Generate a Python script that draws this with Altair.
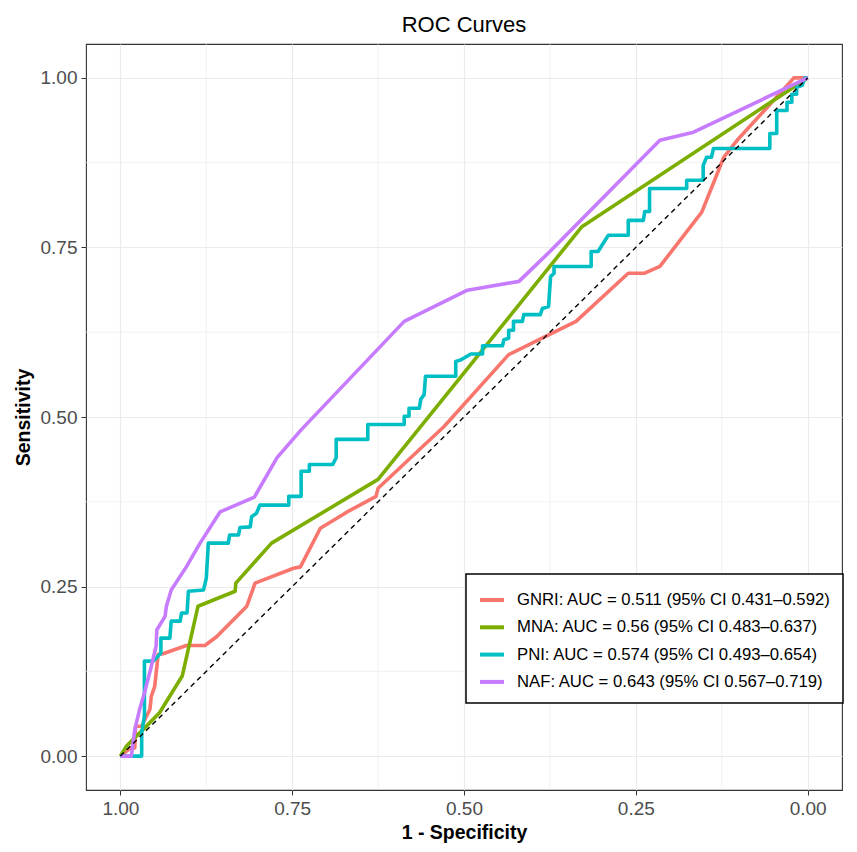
import altair as alt
import pandas as pd

# ROC curve coordinates (specificity, sensitivity) for each nutritional index
gnri_spec = [1.0, 0.985, 0.979, 0.978, 0.969, 0.957, 0.955, 0.950, 0.945, 0.938, 0.904, 0.877,
             0.860, 0.816, 0.804, 0.748, 0.738, 0.709, 0.670, 0.628, 0.625, 0.529, 0.435, 0.337,
             0.261, 0.237, 0.215, 0.154, 0.122, 0.101, 0.054, 0.020, 0.0]
gnri_sens = [0.0, 0.012, 0.012, 0.044, 0.044, 0.069, 0.088, 0.103, 0.150, 0.151, 0.163, 0.163,
             0.176, 0.221, 0.255, 0.277, 0.279, 0.336, 0.360, 0.383, 0.395, 0.486, 0.592, 0.641,
             0.712, 0.712, 0.722, 0.802, 0.883, 0.910, 0.962, 1.0, 1.0]

mna_spec = [1.0, 0.991, 0.967, 0.943, 0.910, 0.887, 0.833, 0.832, 0.780, 0.625, 0.329, 0.0]
mna_sens = [0.0, 0.015, 0.039, 0.064, 0.118, 0.221, 0.243, 0.255, 0.314, 0.408, 0.780, 1.0]

pni_spec = [1.0, 0.969, 0.969, 0.965, 0.965, 0.952, 0.941, 0.941, 0.928, 0.926, 0.913, 0.911,
            0.903, 0.901, 0.879, 0.875, 0.872, 0.843, 0.841, 0.828, 0.826, 0.811, 0.809, 0.802,
            0.797, 0.755, 0.755, 0.737, 0.737, 0.725, 0.725, 0.691, 0.686, 0.686, 0.640, 0.640,
            0.587, 0.587, 0.580, 0.580, 0.565, 0.563, 0.558, 0.556, 0.512, 0.512, 0.505, 0.490,
            0.473, 0.473, 0.444, 0.442, 0.435, 0.435, 0.428, 0.428, 0.415, 0.413, 0.389, 0.386,
            0.377, 0.374, 0.369, 0.369, 0.315, 0.315, 0.305, 0.290, 0.261, 0.261, 0.239, 0.237,
            0.230, 0.230, 0.176, 0.176, 0.152, 0.152, 0.147, 0.140, 0.137, 0.055, 0.055, 0.045,
            0.045, 0.030, 0.030, 0.023, 0.023, 0.016, 0.016, 0.008, 0.004, 0.0]
pni_sens = [0.0, 0.0, 0.034, 0.059, 0.140, 0.140, 0.152, 0.174, 0.174, 0.199, 0.199, 0.211,
            0.211, 0.243, 0.245, 0.262, 0.314, 0.314, 0.326, 0.326, 0.337, 0.338, 0.353, 0.358,
            0.370, 0.370, 0.383, 0.383, 0.420, 0.420, 0.430, 0.430, 0.440, 0.467, 0.467, 0.489,
            0.489, 0.501, 0.501, 0.513, 0.513, 0.526, 0.533, 0.560, 0.560, 0.582, 0.584, 0.593,
            0.593, 0.605, 0.605, 0.614, 0.616, 0.628, 0.628, 0.641, 0.641, 0.651, 0.651, 0.660,
            0.663, 0.707, 0.712, 0.722, 0.722, 0.744, 0.744, 0.768, 0.768, 0.790, 0.790, 0.803,
            0.803, 0.837, 0.837, 0.849, 0.849, 0.871, 0.883, 0.883, 0.896, 0.896, 0.918, 0.918,
            0.952, 0.952, 0.964, 0.964, 0.976, 0.976, 0.986, 0.989, 1.0, 1.0]

naf_spec = [1.0, 0.984, 0.979, 0.972, 0.965, 0.955, 0.948, 0.947, 0.935, 0.933, 0.926, 0.904,
            0.884, 0.855, 0.816, 0.805, 0.772, 0.737, 0.587, 0.495, 0.420, 0.375, 0.215, 0.166, 0.0]
naf_sens = [0.0, 0.0, 0.039, 0.069, 0.093, 0.132, 0.162, 0.186, 0.206, 0.221, 0.245, 0.279,
            0.314, 0.360, 0.377, 0.382, 0.440, 0.481, 0.641, 0.687, 0.700, 0.744, 0.908, 0.920, 1.0]

labels = [
    "GNRI: AUC = 0.511 (95% CI 0.431\u20130.592)",
    "MNA: AUC = 0.56 (95% CI 0.483\u20130.637)",
    "PNI: AUC = 0.574 (95% CI 0.493\u20130.654)",
    "NAF: AUC = 0.643 (95% CI 0.567\u20130.719)",
]
colors = ["#F8766D", "#7CAE00", "#00BFC4", "#C77CFF"]

major_ticks = [0.0, 0.25, 0.5, 0.75, 1.0]
minor_ticks = [0.125, 0.375, 0.625, 0.875]

series = [(gnri_spec, gnri_sens), (mna_spec, mna_sens), (pni_spec, pni_sens), (naf_spec, naf_sens)]
rows = []
for lab, (sp, se) in zip(labels, series):
    for i, (a, b) in enumerate(zip(sp, se)):
        rows.append({"curve": lab, "specificity": a, "sensitivity": b, "idx": i})
roc = pd.DataFrame(rows)

diag = pd.DataFrame({"specificity": [1.0, 0.0], "sensitivity": [0.0, 1.0], "idx": [0, 1]})
minor = pd.DataFrame({"v": minor_ticks})

FONT = "Liberation Sans"
xscale = alt.Scale(domain=[-0.05, 1.05], reverse=True, nice=False, zero=False)
yscale = alt.Scale(domain=[-0.05, 1.05], nice=False, zero=False)

# identical axis definitions shared by every layer so they merge cleanly
x_axis = alt.Axis(
    values=major_ticks, format=".2f", title="1 - Specificity",
    titleX=378, titleY=48, titleBaseline="alphabetic", titleAnchor="middle",
)
y_axis = alt.Axis(
    values=major_ticks, format=".2f", title="Sensitivity",
    titleX=-57, titleY=373, titleBaseline="alphabetic", titleAngle=270,
    titleAlign="center",
)

minor_x = alt.Chart(minor).mark_rule(color="#EBEBEB", strokeWidth=0.7).encode(
    x=alt.X("v:Q", scale=xscale, axis=x_axis)
)
minor_y = alt.Chart(minor).mark_rule(color="#EBEBEB", strokeWidth=0.7).encode(
    y=alt.Y("v:Q", scale=yscale, axis=y_axis)
)

curves = alt.Chart(roc).mark_line(strokeWidth=3.6, strokeJoin="round").encode(
    x=alt.X("specificity:Q", scale=xscale, axis=x_axis),
    y=alt.Y("sensitivity:Q", scale=yscale, axis=y_axis),
    color=alt.Color(
        "curve:N",
        scale=alt.Scale(domain=labels, range=colors),
        legend=alt.Legend(
            title=None, orient="none", legendX=380, legendY=530,
            symbolType="stroke", symbolSize=576, symbolStrokeWidth=4,
            labelFont=FONT, labelFontSize=16.7, labelColor="black", labelLimit=0,
            labelOffset=11, padding=12, rowPadding=4.3,
            strokeColor="black", fillColor="white",
        ),
    ),
    order=alt.Order("idx:Q"),
)

diagonal = alt.Chart(diag).mark_line(color="black", strokeWidth=1.4, strokeDash=[5, 4]).encode(
    x=alt.X("specificity:Q", scale=xscale, axis=x_axis),
    y=alt.Y("sensitivity:Q", scale=yscale, axis=y_axis),
    order=alt.Order("idx:Q"),
)

chart = (
    alt.layer(minor_x, minor_y, curves, diagonal)
    .properties(
        width=756,
        height=746,
        autosize=alt.AutoSizeParams(type="none"),
        padding={"left": 86, "top": 44, "right": 15, "bottom": 62},
        title=alt.TitleParams(
            "ROC Curves", font=FONT, fontSize=22, fontWeight="normal", color="black",
            anchor="middle", baseline="alphabetic", offset=13, dy=23,
        ),
    )
    .configure_view(stroke="#333333", strokeWidth=1.1)
    .configure_axis(
        domain=False,
        grid=True,
        gridColor="#EBEBEB",
        gridWidth=1.2,
        ticks=True,
        tickSize=5,
        tickColor="#333333",
        tickWidth=1,
        labelFont=FONT,
        labelFontSize=19,
        labelColor="#4D4D4D",
        labelPadding=4,
        titleFont=FONT,
        titleFontSize=19.5,
        titleFontWeight="bold",
        titleColor="black",
    )
    .configure_legend(strokeWidth=1.5)
)

chart.save("out.html", embed_options={"renderer": "svg", "actions": False})
